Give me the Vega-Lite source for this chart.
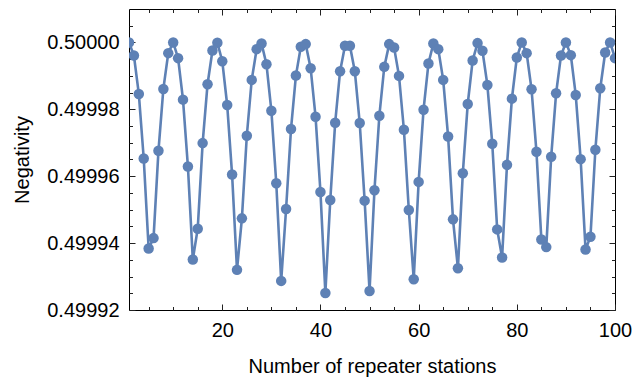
{
  "$schema": "https://vega.github.io/schema/vega-lite/v6.json",
  "width": 486,
  "height": 301,
  "autosize": {"type": "none"},
  "padding": {"left": 129, "top": 9, "right": 19, "bottom": 74},
  "background": "white",
  "config": {
    "view": {"stroke": "#000000", "strokeWidth": 1},
    "font": "Liberation Sans",
    "axis": {
      "domain": false,
      "grid": false,
      "tickColor": "#222222",
      "tickWidth": 1,
      "labelFont": "Liberation Sans",
      "labelFontSize": 20,
      "labelColor": "#000000",
      "titleFont": "Liberation Sans",
      "titleFontSize": 20,
      "titleFontWeight": "normal",
      "titleColor": "#000000",
      "labelFlush": false,
      "labelOverlap": false
    }
  },
  "data": {
    "values": [
      {"n": 1, "neg": 0.5000000}, {"n": 2, "neg": 0.4999961}, {"n": 3, "neg": 0.4999846}, {"n": 4, "neg": 0.4999653},
      {"n": 5, "neg": 0.4999384}, {"n": 6, "neg": 0.4999415}, {"n": 7, "neg": 0.4999676}, {"n": 8, "neg": 0.4999861},
      {"n": 9, "neg": 0.4999968}, {"n": 10, "neg": 0.5000000}, {"n": 11, "neg": 0.4999953}, {"n": 12, "neg": 0.4999829},
      {"n": 13, "neg": 0.4999629}, {"n": 14, "neg": 0.4999351}, {"n": 15, "neg": 0.4999443}, {"n": 16, "neg": 0.4999699},
      {"n": 17, "neg": 0.4999875}, {"n": 18, "neg": 0.4999976}, {"n": 19, "neg": 0.4999999}, {"n": 20, "neg": 0.4999944},
      {"n": 21, "neg": 0.4999813}, {"n": 22, "neg": 0.4999605}, {"n": 23, "neg": 0.4999320}, {"n": 24, "neg": 0.4999474},
      {"n": 25, "neg": 0.4999721}, {"n": 26, "neg": 0.4999888}, {"n": 27, "neg": 0.4999980}, {"n": 28, "neg": 0.4999997},
      {"n": 29, "neg": 0.4999935}, {"n": 30, "neg": 0.4999796}, {"n": 31, "neg": 0.4999579}, {"n": 32, "neg": 0.4999287},
      {"n": 33, "neg": 0.4999502}, {"n": 34, "neg": 0.4999741}, {"n": 35, "neg": 0.4999901}, {"n": 36, "neg": 0.4999987},
      {"n": 37, "neg": 0.4999995}, {"n": 38, "neg": 0.4999923}, {"n": 39, "neg": 0.4999778}, {"n": 40, "neg": 0.4999553},
      {"n": 41, "neg": 0.4999251}, {"n": 42, "neg": 0.4999529}, {"n": 43, "neg": 0.4999760}, {"n": 44, "neg": 0.4999914},
      {"n": 45, "neg": 0.4999990}, {"n": 46, "neg": 0.4999990}, {"n": 47, "neg": 0.4999914}, {"n": 48, "neg": 0.4999759},
      {"n": 49, "neg": 0.4999527}, {"n": 50, "neg": 0.4999257}, {"n": 51, "neg": 0.4999558}, {"n": 52, "neg": 0.4999781},
      {"n": 53, "neg": 0.4999927}, {"n": 54, "neg": 0.4999995}, {"n": 55, "neg": 0.4999985}, {"n": 56, "neg": 0.4999900},
      {"n": 57, "neg": 0.4999739}, {"n": 58, "neg": 0.4999499}, {"n": 59, "neg": 0.4999292}, {"n": 60, "neg": 0.4999583},
      {"n": 61, "neg": 0.4999799}, {"n": 62, "neg": 0.4999937}, {"n": 63, "neg": 0.4999997}, {"n": 64, "neg": 0.4999980},
      {"n": 65, "neg": 0.4999888}, {"n": 66, "neg": 0.4999719}, {"n": 67, "neg": 0.4999471}, {"n": 68, "neg": 0.4999325},
      {"n": 69, "neg": 0.4999609}, {"n": 70, "neg": 0.4999816}, {"n": 71, "neg": 0.4999946}, {"n": 72, "neg": 0.4999998},
      {"n": 73, "neg": 0.4999975}, {"n": 74, "neg": 0.4999873}, {"n": 75, "neg": 0.4999697}, {"n": 76, "neg": 0.4999441},
      {"n": 77, "neg": 0.4999357}, {"n": 78, "neg": 0.4999634}, {"n": 79, "neg": 0.4999832}, {"n": 80, "neg": 0.4999955},
      {"n": 81, "neg": 0.5000000}, {"n": 82, "neg": 0.4999968}, {"n": 83, "neg": 0.4999860}, {"n": 84, "neg": 0.4999673},
      {"n": 85, "neg": 0.4999411}, {"n": 86, "neg": 0.4999388}, {"n": 87, "neg": 0.4999658}, {"n": 88, "neg": 0.4999848},
      {"n": 89, "neg": 0.4999961}, {"n": 90, "neg": 0.5000000}, {"n": 91, "neg": 0.4999962}, {"n": 92, "neg": 0.4999843},
      {"n": 93, "neg": 0.4999651}, {"n": 94, "neg": 0.4999381}, {"n": 95, "neg": 0.4999419}, {"n": 96, "neg": 0.4999679},
      {"n": 97, "neg": 0.4999863}, {"n": 98, "neg": 0.4999970}, {"n": 99, "neg": 0.5000000}, {"n": 100, "neg": 0.4999953}
    ]
  },
  "layer": [
    {
      "mark": {"type": "line", "color": "#5E81B5", "strokeWidth": 2.6, "clip": true},
      "encoding": {
        "x": {
          "field": "n", "type": "quantitative",
          "scale": {"domain": [1, 100], "nice": false, "zero": false},
          "axis": {
            "orient": "bottom",
            "title": "Number of repeater stations",
            "titlePadding": 14,
            "values": [5, 10, 15, 20, 25, 30, 35, 40, 45, 50, 55, 60, 65, 70, 75, 80, 85, 90, 95, 100],
            "tickSize": {"condition": {"test": "datum.value % 20 === 0", "value": -6}, "value": -3.5},
            "labelPadding": 16,
            "labelExpr": "datum.value % 20 === 0 ? datum.label : ''"
          }
        },
        "y": {
          "field": "neg", "type": "quantitative",
          "scale": {"domain": [0.49992, 0.50001], "nice": false, "zero": false},
          "axis": {
            "orient": "left",
            "title": "Negativity",
            "titlePadding": 14,
            "format": ".5f",
            "values": [0.49992, 0.499925, 0.49993, 0.499935, 0.49994, 0.499945, 0.49995, 0.499955, 0.49996, 0.499965, 0.49997, 0.499975, 0.49998, 0.499985, 0.49999, 0.499995, 0.5, 0.500005],
            "tickSize": {"condition": {"test": "round(datum.value * 200000) % 4 === 0", "value": -6}, "value": -3.5},
            "labelPadding": 16,
            "labelExpr": "round(datum.value * 200000) % 4 === 0 ? datum.label : ''"
          }
        }
      }
    },
    {
      "mark": {"type": "point", "filled": true, "color": "#5E81B5", "opacity": 1, "size": 110, "clip": true},
      "encoding": {
        "x": {
          "field": "n", "type": "quantitative",
          "axis": {
            "orient": "top",
            "title": null,
            "labels": false,
            "values": [5, 10, 15, 20, 25, 30, 35, 40, 45, 50, 55, 60, 65, 70, 75, 80, 85, 90, 95, 100],
            "tickSize": {"condition": {"test": "datum.value % 20 === 0", "value": -6}, "value": -3.5}
          }
        },
        "y": {
          "field": "neg", "type": "quantitative",
          "axis": {
            "orient": "right",
            "title": null,
            "labels": false,
            "values": [0.49992, 0.499925, 0.49993, 0.499935, 0.49994, 0.499945, 0.49995, 0.499955, 0.49996, 0.499965, 0.49997, 0.499975, 0.49998, 0.499985, 0.49999, 0.499995, 0.5, 0.500005],
            "tickSize": {"condition": {"test": "round(datum.value * 200000) % 4 === 0", "value": -6}, "value": -3.5}
          }
        }
      }
    }
  ],
  "resolve": {"axis": {"x": "independent", "y": "independent"}}
}
